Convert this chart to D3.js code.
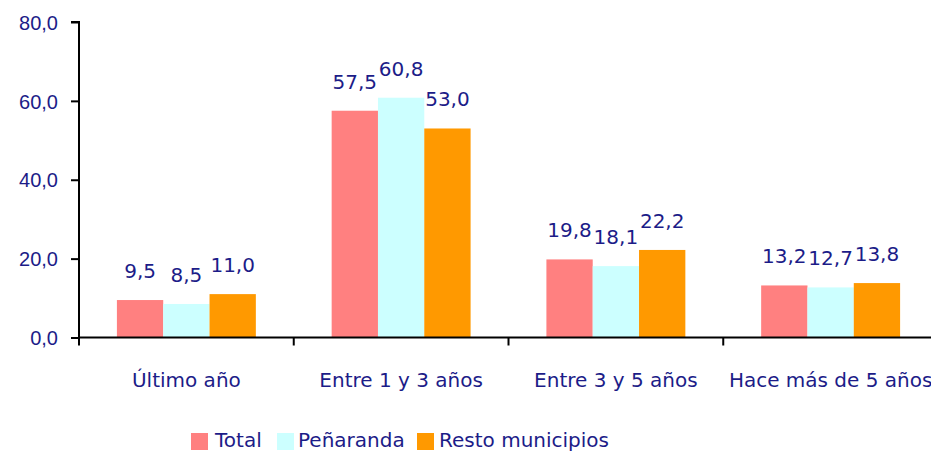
<!DOCTYPE html>
<html>
<head>
<meta charset="utf-8">
<script src="https://cdn.jsdelivr.net/npm/d3@7"></script>
<style>
  body { margin: 0; background: #fff; }
  svg { display: block; font-family: "DejaVu Sans", Verdana, sans-serif; }
</style>
</head>
<body>
<script>
// data
var categories = ["Último año", "Entre 1 y 3 años", "Entre 3 y 5 años", "Hace más de 5 años"];
var seriesNames = ["Total", "Peñaranda", "Resto municipios"];
var total = [9.5, 57.5, 19.8, 13.2];
var penaranda = [8.5, 60.8, 18.1, 12.7];
var resto = [11.0, 53.0, 22.2, 13.8];
var yTicks = [0, 20, 40, 60, 80];
var colors = ["#ff8080", "#ccffff", "#ff9900"];
var textColor = "#1c1c88";

var seriesValues = [total, penaranda, resto];

var svgWidth = 931, svgHeight = 452;
var margin = {top: 22, left: 79, bottom: 114.5};
var plotWidth = 859;
var chartHeight = svgHeight - margin.top - margin.bottom;

var svg = d3.select("body").append("svg")
    .attr("width", svgWidth).attr("height", svgHeight);

var chartGroup = svg.append("g").attr("transform", `translate(${margin.left},${margin.top})`);

// scales
var x0 = d3.scaleBand().domain(categories).range([0, plotWidth])
    .paddingInner(0.353).paddingOuter(0.1765);
var x1 = d3.scaleBand().domain(seriesNames).range([0, x0.bandwidth()]);
var yScale = d3.scaleLinear().domain([0, 80]).range([chartHeight, 0]);

var fmt = v => d3.format(".1f")(v).replace(".", ",");

// y axis
var leftAxis = d3.axisLeft(yScale).tickValues(yTicks).tickSize(8).tickPadding(13).tickFormat(fmt);
var yAxis = chartGroup.append("g")
    .attr("font-size", 20).attr("font-family", null)
    .call(leftAxis);
yAxis.select(".domain").attr("stroke", "#000").attr("stroke-width", 2).attr("d", `M-8,0H0V${chartHeight}`);
yAxis.selectAll(".tick line").attr("stroke", "#000").attr("stroke-width", 2);
yAxis.selectAll(".tick text").attr("fill", textColor).attr("dy", "0.36em").style("font-size", "20px");

// bars
var groups = chartGroup.selectAll(".group")
    .data(categories).enter().append("g")
    .attr("class", "group")
    .attr("transform", d => `translate(${x0(d)},0)`);

groups.selectAll("rect")
    .data((d, i) => seriesNames.map((s, j) => ({s: s, j: j, v: seriesValues[j][i]})))
    .enter().append("rect")
    .attr("x", d => x1(d.s))
    .attr("y", d => yScale(d.v))
    .attr("width", x1.bandwidth())
    .attr("height", d => chartHeight - yScale(d.v))
    .attr("fill", d => colors[d.j]);

groups.selectAll("text.val")
    .data((d, i) => seriesNames.map((s, j) => ({s: s, j: j, v: seriesValues[j][i]})))
    .enter().append("text")
    .attr("class", "val")
    .attr("x", d => x1(d.s) + x1.bandwidth() / 2)
    .attr("y", d => yScale(d.v) - 22)
    .attr("text-anchor", "middle")
    .attr("fill", textColor)
    .style("font-size", "20px")
    .text(d => fmt(d.v));

// x axis line and category ticks
chartGroup.append("line")
    .attr("x1", 0).attr("x2", plotWidth)
    .attr("y1", chartHeight).attr("y2", chartHeight)
    .attr("stroke", "#000").attr("stroke-width", 2);

d3.range(categories.length + 1).forEach(i => {
    var tx = i * x0.step();
    chartGroup.append("line")
        .attr("x1", tx).attr("x2", tx)
        .attr("y1", chartHeight).attr("y2", chartHeight + 8)
        .attr("stroke", "#000").attr("stroke-width", 2);
});

chartGroup.selectAll("text.cat")
    .data(categories).enter().append("text")
    .attr("class", "cat")
    .attr("x", d => x0(d) + x0.bandwidth() / 2)
    .attr("y", chartHeight + 49)
    .attr("text-anchor", "middle")
    .attr("fill", textColor)
    .style("font-size", "20px")
    .text(d => d);

// legend
var legendX = [191, 277, 417];
var legendTextX = [215, 298, 439];
var legend = svg.append("g");
seriesNames.forEach((s, j) => {
    legend.append("rect")
        .attr("x", legendX[j]).attr("y", 433)
        .attr("width", 17).attr("height", 17)
        .attr("fill", colors[j]);
    legend.append("text")
        .attr("x", legendTextX[j]).attr("y", 447)
        .attr("fill", textColor)
        .style("font-size", "20px")
        .text(s);
});
</script>
</body>
</html>
